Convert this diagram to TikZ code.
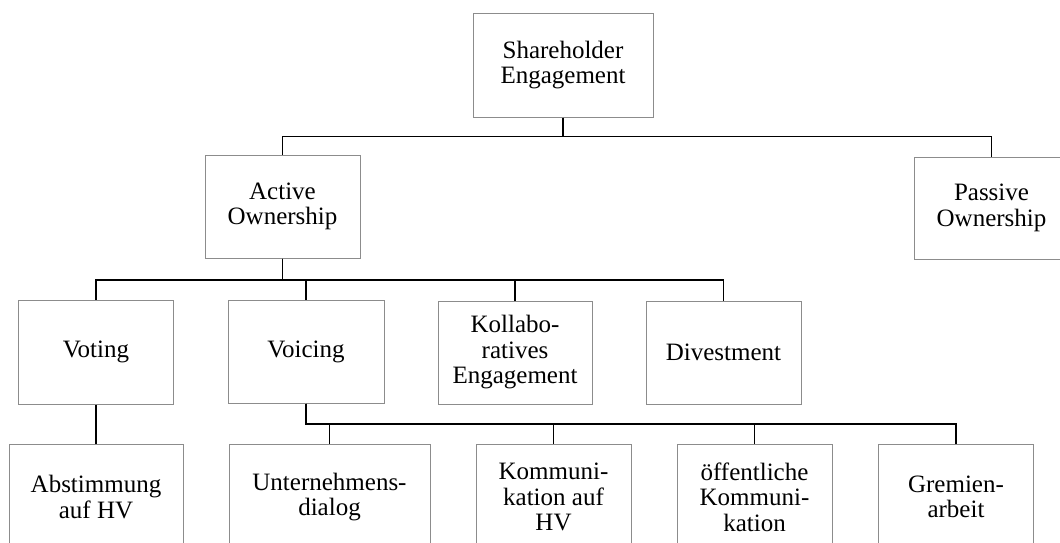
\documentclass[tikz,border=0pt]{standalone}
\usepackage{fontspec}
\setmainfont{Liberation Serif}
\usepackage{tikz}

\tikzset{
  box/.style={draw=black!45, line width=1pt, rectangle, align=center,
    minimum width=155pt, minimum height=103pt, inner sep=0pt,
    font=\fontsize{25}{25.5}\selectfont},
  conn/.style={draw=black, line width=1.2pt}
}

\begin{document}
\begin{tikzpicture}[x=1pt,y=-1pt]
\useasboundingbox (0,0) rectangle (1060,542);
\clip (0,0) rectangle (1060,542);

% Top levels
\node[box, minimum width=180pt, minimum height=104pt] (se) at (563,65) {Shareholder\\Engagement};
\node[box] (ao) at (282.5,206.5) {Active\\Ownership};
\node[box, minimum height=102pt] (po) at (991.5,208) {Passive\\Ownership};

% Forms of active ownership
\node[box, minimum height=104pt] (vot) at (96,352) {Voting};
\node[box, minimum width=156pt] (voi) at (306,351.5) {Voicing};
\node[box, minimum width=154pt] (kol) at (515,352.5) {Kollabo-\\ratives\\Engagement};
\node[box] (div) at (723.5,352.5) {Divestment};

% Instruments
\node[box, minimum width=174pt, minimum height=106pt] (abs) at (96,497) {Abstimmung\\auf HV};
\node[box, minimum width=201pt, minimum height=106pt] (unt) at (329.5,497) {Unternehmens-\\dialog};
\node[box, minimum height=106pt] (kom) at (553.5,497) {Kommuni-\\kation auf\\HV};
\node[box, minimum height=106pt] (oef) at (754.5,497) {öffentliche\\Kommuni-\\kation};
\node[box, minimum height=106pt] (gre) at (956,497) {Gremien-\\arbeit};

% Connectors
\draw[conn] (se.south) -- ++(0,19) -| (ao.north);
\draw[conn] (se.south) -- ++(0,19) -| (po.north);
\foreach \n in {vot,voi,kol,div}
  \draw[conn] (ao.south) -- ++(0,21.5) -| (\n.north);
\draw[conn] (vot.south) -- (abs.north);
\foreach \n in {unt,kom,oef,gre}
  \draw[conn] (voi.south) -- ++(0,20.5) -| (\n.north);
\end{tikzpicture}
\end{document}
